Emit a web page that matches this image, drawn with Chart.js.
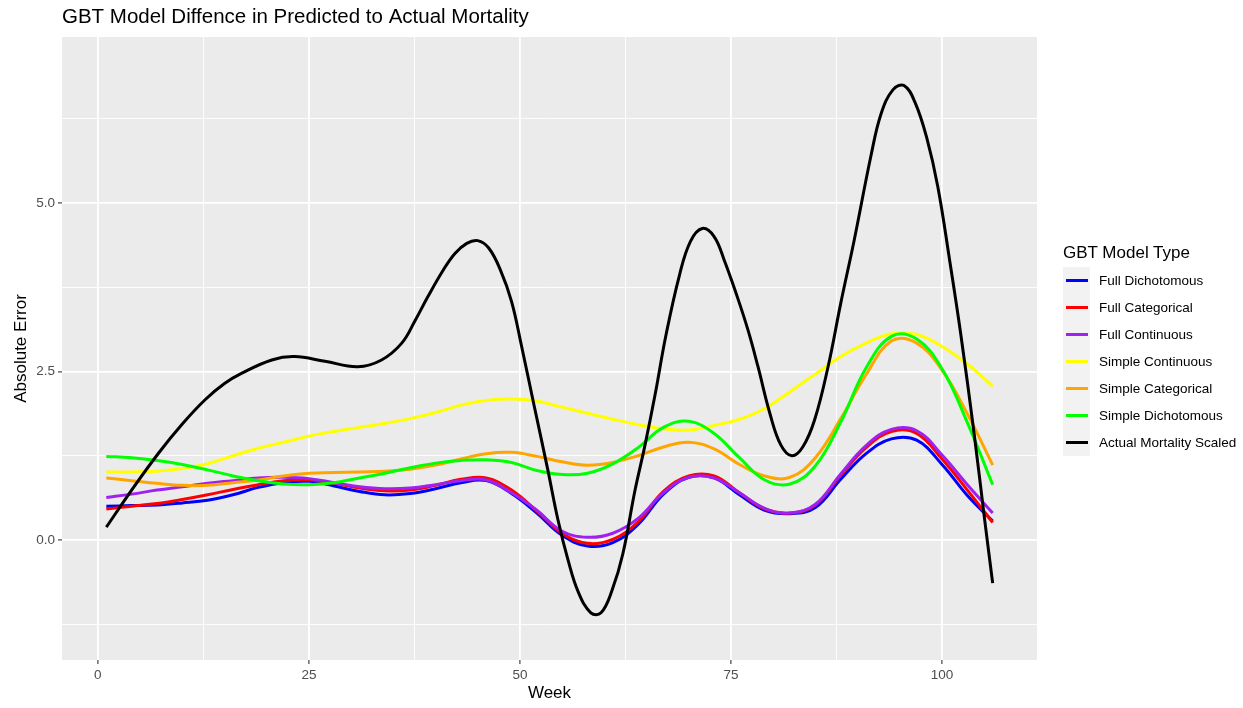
<!DOCTYPE html>
<html>
<head>
<meta charset="utf-8">
<script src="https://cdn.jsdelivr.net/npm/chart.js@4.4.0/dist/chart.umd.min.js"></script>
<style>
  body { margin: 0; background: #fff; font-family: "Liberation Sans", Arial, sans-serif; }
  #wrap { position: relative; width: 1243px; height: 708px; }
  #legend { position: absolute; left: 1063px; top: 242px; }
  #legend .ttl { font-size: 17px; line-height: 22px; height: 22px; color: #000; white-space: nowrap; }
  #legend .rows { margin-top: 3px; }
  #legend .row { display: flex; align-items: center; height: 27px; }
  #legend .key { position: relative; width: 27px; height: 27px; background: #F2F2F2; }
  #legend .key span { position: absolute; left: 3px; width: 22px; top: 12px; height: 3px; }
  #legend .lab { margin-left: 9px; font-size: 13.5px; color: #000; white-space: nowrap; }
</style>
</head>
<body>
<div id="wrap">
  <canvas id="chart" width="1243" height="708"></canvas>
  <div id="legend"></div>
</div>
<script>
// smoothed curves
const weeks = [1, 4, 7, 10, 13, 16, 19, 22, 25, 28, 31, 34, 37, 40, 43, 46, 49, 52, 55, 58, 61, 64, 67, 70, 73, 76, 79, 82, 85, 88, 91, 94, 97, 100, 103, 106];

const fullDichotomous = [0.50, 0.51, 0.52, 0.55, 0.59, 0.67, 0.78, 0.85, 0.87, 0.80, 0.72, 0.67, 0.69, 0.76, 0.85, 0.88, 0.69, 0.40, 0.07, -0.09, -0.04, 0.23, 0.68, 0.93, 0.92, 0.67, 0.44, 0.39, 0.48, 0.90, 1.28, 1.50, 1.48, 1.12, 0.66, 0.28];
const fullCategorical = [0.46, 0.50, 0.54, 0.60, 0.67, 0.75, 0.82, 0.88, 0.89, 0.84, 0.77, 0.73, 0.74, 0.81, 0.90, 0.92, 0.74, 0.43, 0.10, -0.05, 0.01, 0.27, 0.72, 0.95, 0.95, 0.70, 0.46, 0.40, 0.52, 0.96, 1.37, 1.61, 1.58, 1.20, 0.74, 0.26];
const fullContinuous = [0.63, 0.68, 0.74, 0.79, 0.84, 0.88, 0.92, 0.93, 0.91, 0.85, 0.79, 0.76, 0.77, 0.82, 0.88, 0.89, 0.70, 0.44, 0.13, 0.04, 0.10, 0.32, 0.70, 0.93, 0.92, 0.70, 0.47, 0.40, 0.53, 0.98, 1.40, 1.64, 1.62, 1.26, 0.82, 0.40];
const simpleContinuous = [1.01, 1.01, 1.02, 1.06, 1.13, 1.25, 1.36, 1.45, 1.54, 1.61, 1.67, 1.73, 1.80, 1.89, 2.00, 2.07, 2.09, 2.06, 1.97, 1.88, 1.79, 1.71, 1.65, 1.63, 1.70, 1.79, 1.95, 2.20, 2.46, 2.72, 2.92, 3.06, 3.05, 2.87, 2.61, 2.28];
const simpleCategorical = [0.92, 0.88, 0.84, 0.81, 0.81, 0.85, 0.89, 0.95, 0.99, 1.00, 1.01, 1.02, 1.05, 1.11, 1.20, 1.28, 1.30, 1.24, 1.16, 1.11, 1.15, 1.25, 1.38, 1.45, 1.35, 1.12, 0.95, 0.93, 1.22, 1.80, 2.45, 2.95, 2.92, 2.52, 1.87, 1.11];
const simpleDichotomous = [1.24, 1.22, 1.18, 1.12, 1.04, 0.95, 0.88, 0.83, 0.82, 0.85, 0.92, 0.99, 1.07, 1.14, 1.18, 1.19, 1.15, 1.03, 0.97, 0.99, 1.13, 1.37, 1.67, 1.76, 1.58, 1.22, 0.89, 0.83, 1.10, 1.75, 2.55, 3.02, 2.98, 2.54, 1.74, 0.82];

// black curve has sharper peaks, so it gets its own x positions
const mortalityWeeks = [1, 4, 7.2, 10, 12.7, 15, 17, 20.6, 23.3, 26.9, 30.8, 33.6, 36, 37.6, 39.1, 40.9, 42.3, 43.7, 45, 46.3, 47.7, 49, 50.2, 51.7, 53.3, 54.5, 55.7, 56.9, 58.4, 59.6, 60.9, 62.2, 63.6, 64.8, 66, 67.3, 68.9, 70.2, 71.6, 73, 74.2, 75.6, 77, 78.2, 79.6, 80.9, 82.2, 83.5, 84.9, 86.5, 88, 89.6, 91.6, 92.8, 94.2, 95.5, 96.8, 98.2, 99.5, 100.9, 102.2, 103.8, 105, 106];
const mortalityScaled = [0.19, 0.74, 1.29, 1.72, 2.08, 2.32, 2.47, 2.67, 2.72, 2.65, 2.57, 2.67, 2.92, 3.26, 3.61, 4.00, 4.25, 4.40, 4.44, 4.33, 4.00, 3.54, 2.87, 1.98, 1.04, 0.30, -0.30, -0.77, -1.08, -1.08, -0.75, -0.20, 0.72, 1.40, 2.15, 3.04, 3.93, 4.43, 4.62, 4.50, 4.15, 3.66, 3.12, 2.57, 1.88, 1.41, 1.25, 1.38, 1.78, 2.57, 3.51, 4.45, 5.71, 6.33, 6.68, 6.74, 6.49, 5.96, 5.24, 4.15, 3.07, 1.58, 0.35, -0.64];

const seriesNames = ['Full Dichotomous', 'Full Categorical', 'Full Continuous', 'Simple Continuous', 'Simple Categorical', 'Simple Dichotomous', 'Actual Mortality Scaled'];
const seriesColors = ['#0000FF', '#FF0000', '#A020F0', '#FFFF00', '#FFA500', '#00FF00', '#000000'];

const xBreaks = [0, 12.5, 25, 37.5, 50, 62.5, 75, 87.5, 100];
const xTickValues = [0, 25, 50, 75, 100];
const xTickLabels = ['0', '25', '50', '75', '100'];
const yBreaks = [-1.25, 0, 1.25, 2.5, 3.75, 5, 6.25];
const yTickValues = [0, 2.5, 5];
const yTickLabels = ['0.0', '2.5', '5.0'];

const seriesValues = [fullDichotomous, fullCategorical, fullContinuous, simpleContinuous, simpleCategorical, simpleDichotomous, mortalityScaled];

const datasets = seriesValues.map((vals, i) => {
    const xs = i === 6 ? mortalityWeeks : weeks;
    return {
        label: seriesNames[i],
        data: vals.map((v, j) => ({ x: xs[j], y: v })),
        borderColor: seriesColors[i],
        borderWidth: 3,
        pointRadius: 0,
        fill: false,
        tension: 0.4,
        order: 6 - i
    };
});

// html legend
const legend = document.getElementById('legend');
let html = '<div class="ttl">GBT Model Type</div><div class="rows">';
seriesNames.forEach((n, i) => {
    html += '<div class="row"><div class="key"><span style="background:' + seriesColors[i] + '"></span></div><div class="lab">' + n + '</div></div>';
});
legend.innerHTML = html + '</div>';

const panelBg = {
    id: 'panelBg',
    beforeDraw(chart) {
        const { ctx, chartArea: a } = chart;
        ctx.save();
        ctx.fillStyle = '#FFFFFF';
        ctx.fillRect(0, 0, chart.width, chart.height);
        ctx.fillStyle = '#EBEBEB';
        ctx.fillRect(a.left, a.top, a.right - a.left, a.bottom - a.top);
        ctx.restore();
    }
};

const isMajor = (v, list) => list.some(t => Math.abs(t - v) < 1e-9);

const ctx = document.getElementById('chart').getContext('2d');
new Chart(ctx, {
    type: 'line',
    data: { datasets: datasets },
    plugins: [panelBg],
    options: {
        responsive: false,
        animation: false,
        devicePixelRatio: 1,
        layout: { padding: { left: 0, right: 206, top: 0, bottom: 0 } },
        plugins: {
            legend: { display: false },
            tooltip: { enabled: false },
            title: {
                display: true,
                text: 'GBT Model Diffence in Predicted to Actual Mortality',
                align: 'start',
                fullSize: false,
                color: '#000',
                font: { family: '"Liberation Sans", Arial, sans-serif', size: 20.5, weight: 'normal' },
                padding: { top: 5, bottom: 7.4 }
            }
        },
        scales: {
            x: {
                type: 'linear',
                min: -4.25,
                max: 111.25,
                afterBuildTicks: s => { s.ticks = xBreaks.map(v => ({ value: v })); },
                afterFit: s => { s.height = 48; },
                border: { display: false },
                grid: {
                    color: '#FFFFFF',
                    lineWidth: c => isMajor(c.tick.value, xTickValues) ? 1.8 : 0.9,
                    drawTicks: true,
                    tickLength: 4,
                    tickWidth: 1.1,
                    tickColor: c => isMajor(c.tick.value, xTickValues) ? '#333333' : 'rgba(0,0,0,0)'
                },
                ticks: {
                    autoSkip: false,
                    maxRotation: 0,
                    padding: 3,
                    color: '#4D4D4D',
                    font: { family: '"Liberation Sans", Arial, sans-serif', size: 13.5 },
                    callback: v => {
                        const k = xTickValues.findIndex(t => Math.abs(t - v) < 1e-9);
                        return k >= 0 ? xTickLabels[k] : '';
                    }
                },
                title: {
                    display: true,
                    text: 'Week',
                    color: '#000',
                    font: { family: '"Liberation Sans", Arial, sans-serif', size: 17 },
                    padding: { top: 0, bottom: 4 }
                }
            },
            y: {
                type: 'linear',
                min: -1.78,
                max: 7.46,
                afterBuildTicks: s => { s.ticks = yBreaks.map(v => ({ value: v })); },
                afterFit: s => { s.width = 62; },
                border: { display: false },
                grid: {
                    color: '#FFFFFF',
                    lineWidth: c => isMajor(c.tick.value, yTickValues) ? 1.8 : 0.9,
                    drawTicks: true,
                    tickLength: 4,
                    tickWidth: 1.1,
                    tickColor: c => isMajor(c.tick.value, yTickValues) ? '#333333' : 'rgba(0,0,0,0)'
                },
                ticks: {
                    autoSkip: false,
                    padding: 3,
                    color: '#4D4D4D',
                    font: { family: '"Liberation Sans", Arial, sans-serif', size: 13.5 },
                    callback: v => {
                        const k = yTickValues.findIndex(t => Math.abs(t - v) < 1e-9);
                        return k >= 0 ? yTickLabels[k] : '';
                    }
                },
                title: {
                    display: true,
                    text: 'Absolute Error',
                    color: '#000',
                    font: { family: '"Liberation Sans", Arial, sans-serif', size: 17 },
                    padding: { top: 11, bottom: 0 }
                }
            }
        }
    }
});
</script>
</body>
</html>
